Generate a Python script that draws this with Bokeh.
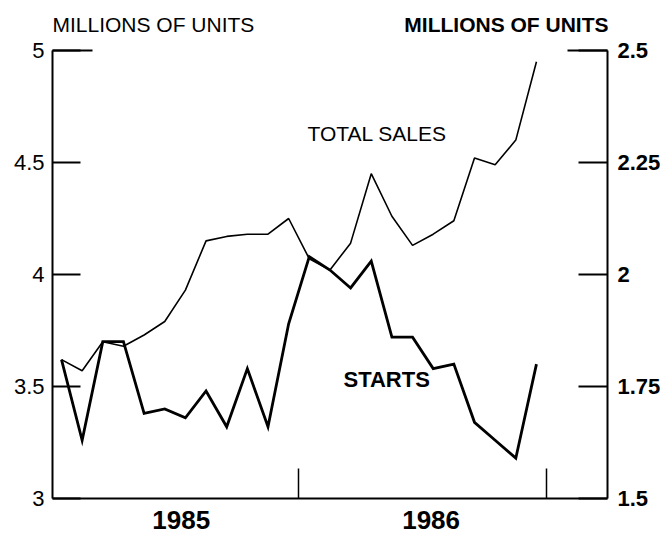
from bokeh.plotting import figure
from bokeh.models import (Range1d, LinearAxis, FixedTicker, NumeralTickFormatter,
                          Label, ColumnDataSource)
from bokeh.embed import file_html
from bokeh.resources import INLINE

# ---- data (monthly, Jan 1985 - Dec 1986), millions of units ----
months = ["Jan 85", "Feb 85", "Mar 85", "Apr 85", "May 85", "Jun 85",
          "Jul 85", "Aug 85", "Sep 85", "Oct 85", "Nov 85", "Dec 85",
          "Jan 86", "Feb 86", "Mar 86", "Apr 86", "May 86", "Jun 86",
          "Jul 86", "Aug 86", "Sep 86", "Oct 86", "Nov 86", "Dec 86"]
total_sales = [3.62, 3.57, 3.70, 3.68, 3.73, 3.79, 3.93, 4.15, 4.17, 4.18, 4.18, 4.25,
               4.07, 4.02, 4.14, 4.45, 4.26, 4.13, 4.18, 4.24, 4.52, 4.49, 4.60, 4.95]
starts = [1.81, 1.63, 1.85, 1.85, 1.69, 1.70, 1.68, 1.74, 1.66, 1.79, 1.66, 1.89,
          2.04, 2.01, 1.97, 2.03, 1.86, 1.86, 1.79, 1.80, 1.67, 1.63, 1.59, 1.80]
years = ["1985", "1986"]
year_label_pos = [5.8, 17.9]        # month-index positions of the year labels
year_bounds = [11.5, 23.5]          # year boundary ticks (month index)
left_ticks = [3, 3.5, 4, 4.5, 5]
right_ticks = [1.5, 1.75, 2, 2.25, 2.5]

x = list(range(len(months)))
src = ColumnDataSource(dict(x=x, month=months, sales=total_sales, starts=starts))

FONT = "Liberation Sans"
W, H = 671, 536
PX0, PX_PER_MONTH = 61.0, 20.65          # x pixel of first month, pixels per month
PY_TOP, PY_BOT = 50.0, 498.0             # pixel rows of 5 (2.5) and 3 (1.5)
AX_L, AX_R = 52.0, 607.0                 # pixel columns of left / right axes

def xd(px):
    return (px - PX0) / PX_PER_MONTH

ppu = (PY_BOT - PY_TOP) / 2.0            # pixels per unit (left scale)
y_lo = 3 - (H - PY_BOT) / ppu
y_hi = 5 + PY_TOP / ppu
s_lo = 1.5 + (y_lo - 3) / 2
s_hi = 1.5 + (y_hi - 3) / 2

def yd(py):
    return 5 - (py - PY_TOP) / ppu

p = figure(width=W, height=H, output_backend="svg", toolbar_location=None,
           x_axis_type=None, y_axis_type=None,
           x_range=Range1d(xd(0), xd(W)), y_range=Range1d(y_lo, y_hi),
           min_border=0, min_border_left=0, min_border_right=0,
           min_border_top=0, min_border_bottom=0)
p.extra_y_ranges = {"starts": Range1d(s_lo, s_hi)}
p.outline_line_color = None
p.background_fill_color = "white"
p.border_fill_color = "white"

xl, xr = xd(AX_L), xd(AX_R)

def style(ax, bold=False, tick_in=28, minor_in=40):
    ax.major_tick_in = tick_in
    ax.major_tick_out = 0
    ax.minor_tick_in = minor_in
    ax.minor_tick_out = 0
    ax.minor_tick_line_width = 2
    ax.axis_line_width = 2
    ax.major_tick_line_width = 2
    ax.axis_line_color = "black"
    ax.major_tick_line_color = "black"
    ax.minor_tick_line_color = "black"
    ax.major_label_text_font = FONT
    ax.major_label_text_font_size = "22px"
    ax.major_label_text_color = "black"
    if bold:
        ax.major_label_text_font_style = "bold"

# left axis (total sales scale); minor tick at 5 gives the longer top tick
la = LinearAxis(fixed_location=xl, bounds=(3, 5),
                ticker=FixedTicker(ticks=left_ticks, minor_ticks=[5]),
                formatter=NumeralTickFormatter(format="0.[00]"))
style(la)
la.major_label_standoff = 8
p.add_layout(la, "left")

# right axis (starts scale)
ra = LinearAxis(fixed_location=xr, y_range_name="starts", bounds=(1.5, 2.5),
                ticker=FixedTicker(ticks=right_ticks, minor_ticks=[2.5]),
                formatter=NumeralTickFormatter(format="0.[00]"))
style(ra, bold=True, tick_in=29)
ra.major_label_standoff = 10
p.add_layout(ra, "right")

# bottom axis: year labels as major labels, year boundaries as minor ticks
ba = LinearAxis(fixed_location=3, bounds=(xl, xr),
                ticker=FixedTicker(ticks=year_label_pos, minor_ticks=year_bounds))
style(ba, bold=True, tick_in=0, minor_in=30)
ba.minor_tick_line_width = 1.5
ba.major_tick_line_color = None
ba.major_label_text_font_size = "26px"
ba.major_label_standoff = 12
overrides = {}
for pos, yr in zip(year_label_pos, years):
    overrides[pos] = yr
    overrides[str(pos)] = yr
ba.major_label_overrides = overrides
p.add_layout(ba, "below")

# series
p.line("x", "sales", source=src, line_color="black", line_width=1.6)
p.line("x", "starts", source=src, y_range_name="starts", line_color="black",
       line_width=2.8, line_join="miter")

# unit titles
p.add_layout(Label(x=xl, y=yd(23.5), text="MILLIONS OF UNITS", text_align="left",
                   text_baseline="middle", text_font=FONT, text_font_size="21px",
                   text_color="black"))
p.add_layout(Label(x=xd(608), y=yd(23.5), text="MILLIONS OF UNITS",
                   text_align="right", text_baseline="middle", text_font=FONT,
                   text_font_style="bold", text_font_size="21px", text_color="black"))

# series labels
p.add_layout(Label(x=xd(307), y=yd(132.5), text="TOTAL SALES", text_align="left",
                   text_baseline="middle", text_font=FONT, text_font_size="21px",
                   text_color="black"))
p.add_layout(Label(x=xd(343), y=1.5 + (PY_BOT - 379) / (2 * ppu), y_range_name="starts",
                   text="STARTS", text_align="left", text_baseline="middle",
                   text_font=FONT, text_font_style="bold", text_font_size="22px",
                   text_color="black"))

open("out.html", "w").write(file_html(p, INLINE))
